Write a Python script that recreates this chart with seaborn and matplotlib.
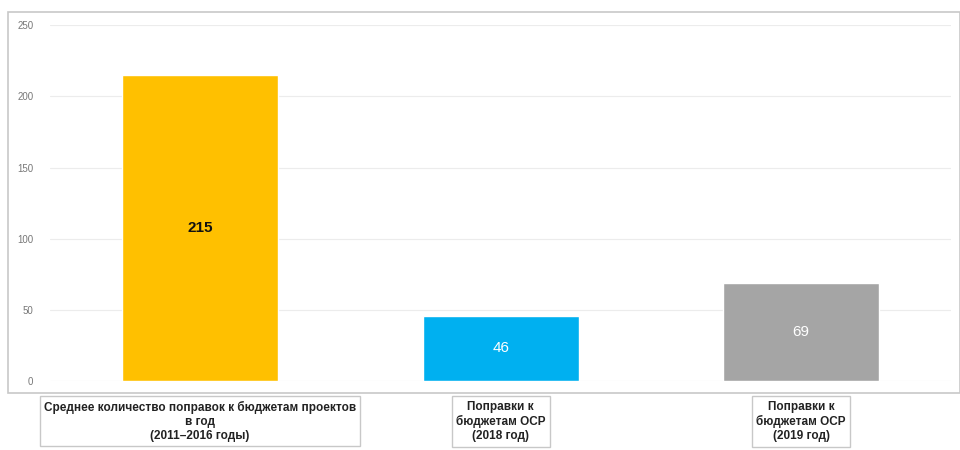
import matplotlib.pyplot as plt
import matplotlib.patches as patches
import seaborn as sns
import pandas as pd

# data
categories = ["Среднее количество поправок к бюджетам проектов\nв год\n(2011–2016 годы)",
              "Поправки к\nбюджетам ОСР\n(2018 год)",
              "Поправки к\nбюджетам ОСР\n(2019 год)"]
values = [215, 46, 69]
colors = ["#FFC000", "#00B0F0", "#A5A5A5"]
label_colors = ["#111111", "white", "white"]
yticks = [0, 50, 100, 150, 200, 250]

df = pd.DataFrame({"cat": categories, "val": values})

sns.set_style("white")
plt.rcParams['font.family'] = ['Liberation Sans', 'DejaVu Sans']

fig = plt.figure(figsize=(9.6, 4.5), dpi=100)
# outer frame of the chart
fig.patches.append(patches.Rectangle((0.008, 0.127), 0.992, 0.846, transform=fig.transFigure,
                                     fill=False, edgecolor="#c8c8c8", linewidth=1.2))
ax = fig.add_axes([0.052, 0.153, 0.939, 0.791])

sns.barplot(data=df, x="cat", y="val", hue="cat", palette=colors, legend=False,
            width=0.52, ax=ax, saturation=1)

ax.set_ylim(0, 250)
ax.set_xlim(-0.5, 2.5)
ax.set_yticks(yticks)
ax.yaxis.grid(True, color="#ececec", linewidth=0.8)
ax.set_axisbelow(True)
for s in ax.spines.values():
    s.set_visible(False)
ax.tick_params(axis="y", labelsize=7, colors="#777777", length=0, pad=12)
ax.set_xlabel("")
ax.set_ylabel("")
ax.set_xticks(range(len(categories)))
ax.set_xticklabels([])

for i, v in enumerate(values):
    ax.text(i, v / 2, str(v), ha="center", va="center", fontsize=11,
            fontweight="bold" if i == 0 else "normal", color=label_colors[i])

# category labels below the frame
for i, c in enumerate(categories):
    ax.annotate(c, xy=(i, 0), xycoords="data", xytext=(0, -14), textcoords="offset points",
                ha="center", va="top", fontsize=8.5, fontweight="bold", color="#222222",
                linespacing=1.25,
                bbox=dict(boxstyle="square,pad=0.35", facecolor="white", edgecolor="#c8c8c8"),
                annotation_clip=False)

fig.savefig("out.png", dpi=100)
